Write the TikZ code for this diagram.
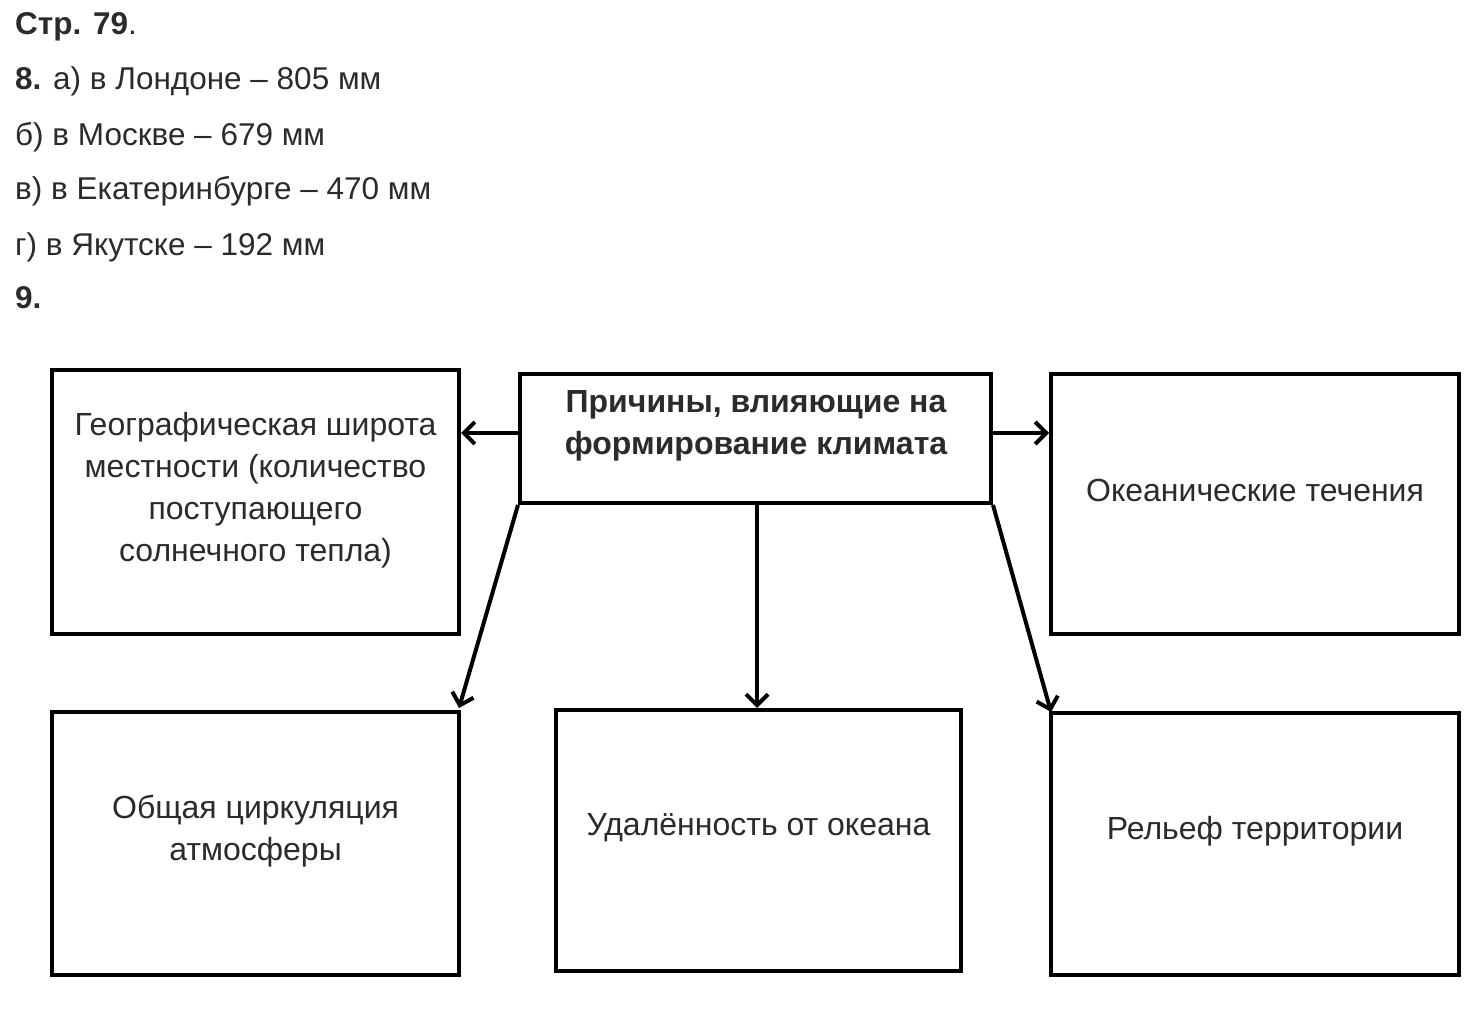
\documentclass[tikz,border=0pt]{standalone}
\usepackage{fontspec}
\setmainfont{Liberation Sans}
\usetikzlibrary{arrows.meta}
\definecolor{txt}{HTML}{2B2B2B}
\tikzset{
  box/.style={draw=black, line width=4pt, minimum width=#1, inner sep=0pt},
  lbl/.style={text=txt, font=\fontsize{32}{42}\selectfont, align=center, inner sep=0pt},
  head/.style={text=txt, font=\fontsize{31.5}{36}\selectfont, anchor=base west, inner sep=0pt},
  conn/.style={line width=4pt, -{Straight Barb[length=11pt,width=22pt,line width=4pt]}}
}
\begin{document}
\begin{tikzpicture}[x=1pt,y=-1pt]
\useasboundingbox[fill=white] (0,0) rectangle (1476,1033);
% header text
\node[head] (h0) at (15,35) {\textbf{Стр. 79}.};
\node[head] (h1) at (15,90) {\textbf{8.} а) в Лондоне – 805 мм};
\node[head] (h2) at (15,145) {б) в Москве – 679 мм};
\node[head] (h3) at (15,199) {в) в Екатеринбурге – 470 мм};
\node[head] (h4) at (15,255) {г) в Якутске – 192 мм};
\node[head] (h5) at (15,308) {\textbf{9.}};
% boxes
\node[box=407pt, minimum height=264pt] (L1) at (255.5,502) {};
\node[box=471pt, minimum height=129pt] (C)  at (755.5,438.5) {};
\node[box=408pt, minimum height=260pt] (R1) at (1255,504) {};
\node[box=407pt, minimum height=263pt] (L2) at (255.5,843.5) {};
\node[box=405pt, minimum height=261pt] (C2) at (758.5,840.5) {};
\node[box=408pt, minimum height=262pt] (R2) at (1255,844) {};
% texts
\node[lbl, anchor=north] (tL1) at (255.5,412) {Географическая широта\\местности (количество\\поступающего\\солнечного тепла)};
\node[lbl, anchor=north, font=\bfseries\fontsize{32}{42}\selectfont] (tC) at (756,390) {Причины, влияющие на\\формирование климата};
\node[lbl] (tR1) at (1255,490) {Океанические течения};
\node[lbl, anchor=north] (tL2) at (255.5,795) {Общая циркуляция\\атмосферы};
\node[lbl] (tC2) at (758.5,828) {Удалённость от океана};
\node[lbl] (tR2) at (1255,831) {Рельеф территории};
% connectors
\draw[conn] ([yshift=5.5pt]C.west) -- ([yshift=5.5pt]C.west -| L1.east);
\draw[conn] ([yshift=5.5pt]C.east) -- ([yshift=5.5pt]C.east -| R1.west);
\draw[conn] (C.south west) -- ([xshift=-2pt,yshift=2pt]L2.north east);
\draw[conn] ([xshift=1.5pt]C.south) -- ([xshift=1.5pt]C.south |- C2.north);
\draw[conn] (C.south east) -- ([xshift=2pt,yshift=-1pt]R2.north west);
\end{tikzpicture}
\end{document}
